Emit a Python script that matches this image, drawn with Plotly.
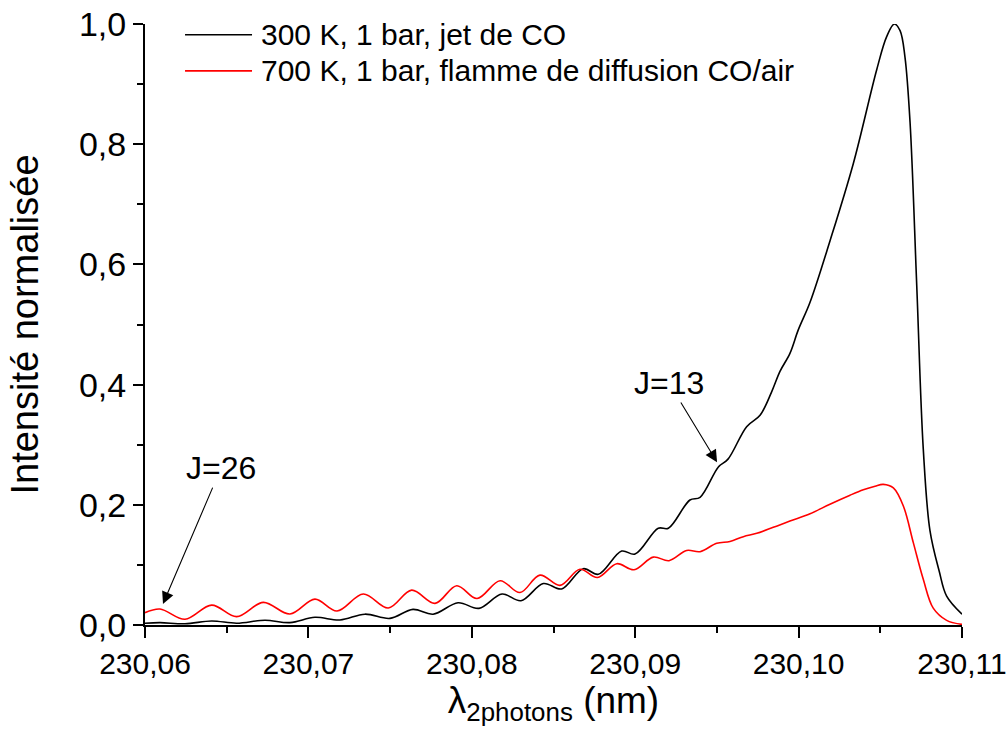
import plotly.graph_objects as go

# ---- data ----
wl_300K = [230.06000, 230.06092, 230.06245, 230.06408, 230.06561, 230.06734, 230.06887,
           230.07040, 230.07193, 230.07346, 230.07499, 230.07640, 230.07763, 230.07916,
           230.08044, 230.08185, 230.08301, 230.08438, 230.08550, 230.08682, 230.08774,
           230.08917, 230.08999, 230.09141, 230.09203, 230.09335, 230.09397, 230.09509,
           230.09568, 230.09682, 230.09764, 230.09835, 230.09886, 230.09947, 230.09998,
           230.10070, 230.10192, 230.10335, 230.10478, 230.10539, 230.10586, 230.10621,
           230.10651, 230.10682, 230.10723, 230.10763, 230.10804, 230.10861, 230.10906,
           230.11000]
int_300K = [0.003, 0.004, 0.002, 0.0067, 0.003, 0.008, 0.004,
            0.0128, 0.0083, 0.018, 0.011, 0.026, 0.018, 0.037,
            0.0277, 0.0516, 0.0404, 0.069, 0.060, 0.0937, 0.0843,
            0.123, 0.118, 0.161, 0.161, 0.208, 0.2125, 0.263,
            0.276, 0.330, 0.349, 0.388, 0.422, 0.452, 0.491,
            0.537, 0.639, 0.768, 0.924, 0.979, 1.000, 0.989,
            0.945, 0.837, 0.565, 0.293, 0.157, 0.089, 0.048,
            0.018]

wl_700K = [230.06000, 230.06092, 230.06245, 230.06408, 230.06561, 230.06724, 230.06887,
           230.07040, 230.07175, 230.07336, 230.07489, 230.07632, 230.07775, 230.07908,
           230.08032, 230.08173, 230.08295, 230.08417, 230.08540, 230.08662, 230.08769,
           230.08887, 230.08993, 230.09111, 230.09207, 230.09315, 230.09397, 230.09499,
           230.09580, 230.09662, 230.09744, 230.09845, 230.09947, 230.10070, 230.10192,
           230.10315, 230.10396, 230.10468, 230.10518, 230.10580, 230.10641, 230.10702,
           230.10763, 230.10824, 230.10906, 230.11000]
int_700K = [0.0205, 0.0266, 0.0095, 0.033, 0.0139, 0.0377, 0.0183,
            0.043, 0.0233, 0.0516, 0.0283, 0.058, 0.036, 0.0654,
            0.044, 0.0737, 0.054, 0.083, 0.066, 0.0927, 0.079,
            0.102, 0.092, 0.113, 0.107, 0.124, 0.122, 0.136,
            0.139, 0.147, 0.1525, 0.1625, 0.173, 0.185, 0.201,
            0.216, 0.225, 0.231, 0.234, 0.228, 0.198, 0.137,
            0.076, 0.028, 0.0077, 0.001]

series_names = ["300 K, 1 bar, jet de CO", "700 K, 1 bar, flamme de diffusion CO/air"]
series_colors = ["#000000", "#ff0000"]

x_tickvals = [230.06, 230.07, 230.08, 230.09, 230.10, 230.11]
x_ticktext = ["230,06", "230,07", "230,08", "230,09", "230,10", "230,11"]
x_minor = [230.065, 230.075, 230.085, 230.095, 230.105]
y_tickvals = [0.0, 0.2, 0.4, 0.6, 0.8, 1.0]
y_ticktext = ["0,0", "0,2", "0,4", "0,6", "0,8", "1,0"]
y_minor = [0.1, 0.3, 0.5, 0.7, 0.9]

# annotations: label, arrow tip (x, y), text position (x, y)
labels = ["J=26", "J=13"]
tips = [(230.0611, 0.035), (230.09501, 0.271)]
texts_pos = [(230.06465, 0.261), (230.09207, 0.4027)]

REG = "Liberation Sans, Arial, sans-serif"

fig = go.Figure()
for xs, ys, name, col in [(wl_300K, int_300K, series_names[0], series_colors[0]),
                          (wl_700K, int_700K, series_names[1], series_colors[1])]:
    fig.add_trace(go.Scatter(x=xs, y=ys, mode="lines", name=name,
                             line=dict(color=col, width=1.6, shape="spline", smoothing=1.0),
                             showlegend=False))

annotations = []
for lab, (tx, ty), (ax, ay) in zip(labels, tips, texts_pos):
    annotations.append(dict(x=tx, y=ty, ax=ax, ay=ay, xref="x", yref="y", axref="x", ayref="y",
                            text=lab, showarrow=True, arrowhead=2, arrowsize=2.2, arrowwidth=1.1,
                            arrowcolor="black", standoff=0, startstandoff=0,
                            font=dict(family=REG, size=32, color="black")))

# manual legend (line samples + text)
shapes = []
leg_y = [0.982, 0.922]
for i, (name, col) in enumerate(zip(series_names, series_colors)):
    shapes.append(dict(type="line", xref="paper", yref="paper", x0=0.049, x1=0.131,
                       y0=leg_y[i], y1=leg_y[i], line=dict(color=col, width=1.6)))
    annotations.append(dict(x=0.140, y=leg_y[i], xref="paper", yref="paper", text=name,
                            showarrow=False, xanchor="left", yanchor="middle",
                            font=dict(family=REG, size=30, color="black")))

fig.update_layout(
    width=1006, height=746,
    margin=dict(l=145, r=44, t=24, b=121),
    paper_bgcolor="white", plot_bgcolor="white",
    annotations=annotations, shapes=shapes,
    xaxis=dict(range=[230.06, 230.11], tickmode="array", tickvals=x_tickvals, ticktext=x_ticktext,
               ticks="outside", ticklen=11, tickwidth=2, tickcolor="black",
               minor=dict(tickmode="array", tickvals=x_minor, ticks="outside", ticklen=6,
                          tickwidth=2, tickcolor="black"),
               showline=True, linewidth=2, linecolor="black", showgrid=False, zeroline=False,
               tickfont=dict(family=REG, size=30, color="black"), automargin=False,
               ticklabeloverflow="allow",
               title=dict(text="λ<sub>2photons</sub> (nm)", standoff=5,
                          font=dict(family=REG, size=37, color="black"))),
    yaxis=dict(range=[0, 1.0], tickmode="array", tickvals=y_tickvals, ticktext=y_ticktext,
               ticks="outside", ticklen=10, tickwidth=2, tickcolor="black",
               minor=dict(tickmode="array", tickvals=y_minor, ticks="outside", ticklen=6,
                          tickwidth=2, tickcolor="black"),
               showline=True, linewidth=2, linecolor="black", showgrid=False, zeroline=False,
               tickfont=dict(family=REG, size=34, color="black"), automargin=False,
               ticklabeloverflow="allow",
               title=dict(text="Intensité normalisée", standoff=29,
                          font=dict(family=REG, size=38, color="black"))),
)

fig.write_html("out.html", config={"displayModeBar": False},
               post_script="document.body.style.margin='0';")
